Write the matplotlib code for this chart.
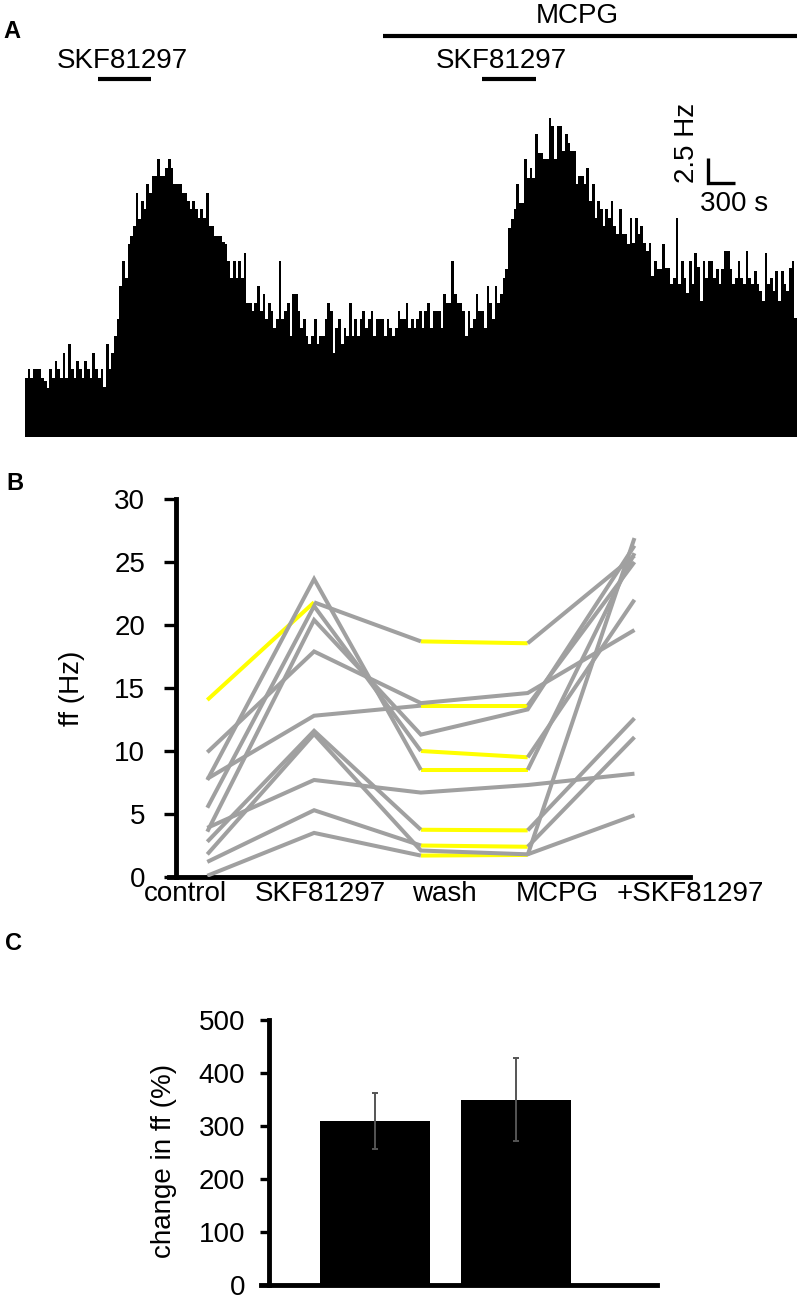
import matplotlib
matplotlib.use('Agg')
import matplotlib.pyplot as plt
from matplotlib import transforms
import numpy as np

plt.rcParams['font.family'] = ['Liberation Sans', 'DejaVu Sans']

# ---------------- data ----------------
# Panel A: firing-rate histogram (Hz), 30 s bins
bin_s = 30
rate_hz = [
    5.9, 6.8, 5.9, 6.8, 6.8, 6.8, 5.9, 5.6, 4.9, 6.8, 5.9, 7.6, 6.8, 5.9, 8.4, 5.9,
    9.3, 6.8, 5.9, 7.6, 6.8, 5.9, 7.6, 6.8, 5.9, 8.4, 6.8, 5.9, 6.8, 5.0, 9.3, 6.8,
    8.4, 10.1, 11.8, 15.1, 17.6, 15.9, 19.3, 20.1, 21.1,
    24.4, 21.8, 23.6, 22.8, 25.3, 24.4, 26.1, 26.1, 27.8, 26.1, 26.1, 26.9, 27.8, 26.9,
    25.3, 25.3, 25.3, 24.4, 24.4, 23.6, 22.8, 23.6, 22.8, 21.9, 22.8, 21.9, 24.4, 21.1,
    21.1, 20.1, 20.1,
    20.1, 19.5, 19.3, 17.6, 15.9, 17.6, 15.9, 17.6, 15.9, 18.4, 13.4, 13.4, 12.6, 13.4,
    15.1, 12.6, 14.3, 11.8, 13.4, 12.6, 10.9, 11.8, 17.6, 11.8, 12.6, 13.4, 10.1, 14.3,
    14.3, 12.6, 10.9, 11.8, 10.1, 9.3, 10.1, 11.8, 9.3, 10.1, 10.1, 11.8, 13.4, 12.6,
    8.4, 10.9, 11.8, 9.3, 10.9, 10.1, 13.4, 10.1, 11.8, 10.1, 11.8, 12.6, 10.9, 11.8,
    12.6, 10.1, 11.8, 11.8, 11.8, 10.1, 11.8, 10.9, 10.1, 10.9, 12.6, 11.8, 11.8, 13.4,
    10.9, 11.8, 10.9, 11.8, 12.6, 10.9, 12.6, 13.4,
    10.9, 12.6, 12.6, 12.6, 10.9, 14.3, 13.4, 13.4, 17.6, 14.3, 13.4, 13.4, 12.6, 10.1,
    12.6, 10.9, 11.8, 14.3, 12.6, 12.6, 10.9, 15.1, 13.4, 11.8, 15.1, 13.4, 14.3, 15.9,
    16.8, 20.9, 21.8, 22.8, 25.3, 23.4, 23.4, 27.8, 25.9, 26.9, 25.9, 30.3, 28.4, 28.4,
    27.8, 27.8, 31.9, 31.1, 27.8, 31.1, 31.1, 28.6, 30.3, 29.4, 28.6, 28.6, 25.3, 26.1,
    26.1, 25.3, 26.9, 23.6, 25.3, 21.9, 23.6, 22.8, 21.1, 22.8, 21.9, 23.6, 21.1, 20.3,
    22.8, 20.3, 20.3, 19.3,
    21.9, 19.4, 21.9, 20.3, 21.1, 19.4, 18.6, 19.4, 16.1, 17.6, 16.8, 16.8, 19.3, 16.9,
    16.9, 15.3, 15.9, 21.9, 15.3, 17.6, 15.9, 14.4, 17.6, 15.3, 18.4, 17.0, 13.6, 17.6,
    15.9, 17.6, 17.6, 15.9, 16.8, 15.3, 16.8, 18.6, 18.6, 16.8, 15.3, 15.9, 17.6, 15.9,
    15.3, 18.6, 15.9, 15.3, 16.6, 15.3, 14.6, 13.6, 18.4, 15.3, 15.9, 14.6, 16.6, 13.6,
    16.6, 15.3, 14.6, 16.9, 17.6, 11.9,
]
skf_periods_s = [(810, 1400), (5080, 5680)]
mcpg_period_s = (3980, 8580)
scale_hz = 2.5
scale_s = 300

# Panel B: ff (Hz) per cell in each condition
conditions = ['control', 'SKF81297', 'wash', 'MCPG', '+SKF81297']
ff_control  = [14.05, 9.9, 7.8, 7.7, 5.5, 3.6, 3.9, 2.8, 1.8, 1.2, 0.1]
ff_skf      = [21.8, 17.9, 12.8, 23.65, 21.5, 20.4, 7.7, 11.6, 11.35, 5.3, 3.5]
ff_wash     = [18.7, 13.8, 13.6, 8.5, 10.0, 11.3, 6.7, 3.75, 2.1, 2.5, 1.7]
ff_mcpg     = [18.55, 14.6, 13.6, 8.5, 9.5, 13.3, 7.3, 3.7, 1.8, 2.4, 1.75]
ff_mcpg_skf = [25.5, 19.6, 25.0, 25.7, 22.0, 26.3, 8.2, 12.6, 4.9, 11.1, 26.9]
# 1 = segment shown highlighted (yellow)
highlight = [
    [1, 0, 1, 0],
    [0, 0, 0, 0],
    [0, 0, 1, 0],
    [0, 0, 1, 0],
    [0, 0, 1, 0],
    [0, 0, 0, 0],
    [0, 0, 0, 0],
    [0, 0, 1, 0],
    [0, 0, 0, 0],
    [0, 0, 1, 0],
    [0, 0, 1, 0],
]

# Panel C: change in ff (%)
groups_c = ['SKF81297', 'MCPG+SKF81297']
change_pct = [310, 350]
change_err = [53, 78]

# ---------------- figure ----------------
W, H = 802, 1300
fig = plt.figure(figsize=(W / 100, H / 100), dpi=100)


def fx(px):
    return px / W


def fy(py):
    return 1 - py / H


def rect(l, t, r, b):
    return [fx(l), fy(b), (r - l) / W, (b - t) / H]


FS = 20
GRAY = '#a0a0a0'
YEL = '#ffff00'

# ---- Panel A ----
axA = fig.add_axes(rect(25, 110, 797, 437))
edges = np.arange(len(rate_hz) + 1) * bin_s
axA.stairs(rate_hz, edges, fill=True, color='black', linewidth=0)
axA.set_xlim(0, edges[-1])
axA.set_ylim(0, 32.7)
axA.axis('off')

trA = transforms.blended_transform_factory(axA.transData, fig.transFigure)
for s, e in skf_periods_s:
    axA.plot([s, e], [fy(79), fy(79)], transform=trA, color='black', lw=3,
             solid_capstyle='butt', clip_on=False)
axA.plot(list(mcpg_period_s), [fy(36), fy(36)], transform=trA, color='black',
         lw=3, solid_capstyle='butt', clip_on=False)
fig.text(fx(122), fy(61), 'SKF81297', fontsize=FS, ha='center', va='center')
fig.text(fx(501), fy(61), 'SKF81297', fontsize=FS, ha='center', va='center')
fig.text(fx(577), fy(16), 'MCPG', fontsize=FS, ha='center', va='center')

# scale bar
sb_x, sb_y = 7589, 25.4
axA.plot([sb_x, sb_x, sb_x + scale_s], [sb_y + scale_hz, sb_y, sb_y],
         color='black', lw=2.4, solid_joinstyle='miter', solid_capstyle='butt',
         clip_on=False)
axA.text(7356, 29.4, '%.1f Hz' % scale_hz, rotation=90, fontsize=FS,
         ha='center', va='center')
axA.text(7878, 23.3, '%d s' % scale_s, fontsize=FS, ha='center', va='center')

# ---- Panel B ----
axB = fig.add_axes(rect(168.8, 499, 690, 877))
xpos = np.arange(len(conditions))
series = list(zip(ff_control, ff_skf, ff_wash, ff_mcpg, ff_mcpg_skf))
for i, vals in enumerate(series):
    hl = highlight[i]
    for s in range(4):
        if hl[s]:
            axB.plot(xpos[s:s + 2], vals[s:s + 2], color=YEL, lw=2.9, zorder=2,
                     solid_capstyle='butt')
    s = 0
    while s < 4:
        if hl[s]:
            s += 1
            continue
        e = s
        while e < 4 and not hl[e]:
            e += 1
        axB.plot(xpos[s:e + 1], vals[s:e + 1], color=GRAY, lw=2.9, zorder=3,
                 solid_joinstyle='miter', solid_capstyle='butt')
        s = e

axB.set_xlim(-0.3605, 4.314)
axB.set_ylim(0, 30)
for sp in ('top', 'right'):
    axB.spines[sp].set_visible(False)
axB.spines['left'].set_position(('data', -0.29))
for sp in ('left', 'bottom'):
    axB.spines[sp].set_linewidth(3.5)
axB.set_yticks(np.arange(0, 31, 5))
axB.set_xticks([-0.205, 1.058, 2.224, 3.274, 4.520])
axB.set_xticklabels(conditions)
axB.tick_params(axis='y', direction='out', length=8.5, width=2.4, pad=14,
                labelsize=FS)
axB.tick_params(axis='x', length=0, pad=3, labelsize=FS)
axB.set_ylabel('ff (Hz)', fontsize=FS, va='center')
axB.yaxis.set_label_coords((72 - 168.8) / (690 - 168.8), 0.5)

# ---- Panel C ----
axC = fig.add_axes(rect(261, 1020, 657, 1285))
xc = np.arange(len(groups_c))
axC.bar(xc, change_pct, width=0.78, color='black', zorder=2)
axC.errorbar(xc, change_pct, yerr=change_err, fmt='none', ecolor='#555555',
             elinewidth=1.4, capsize=2.5, capthick=1.4, zorder=3)
axC.set_xlim(-0.809, 2.0)
axC.set_ylim(0, 500)
for sp in ('top', 'right'):
    axC.spines[sp].set_visible(False)
axC.spines['left'].set_position(('data', -0.75))
for sp in ('left', 'bottom'):
    axC.spines[sp].set_linewidth(3.5)
axC.set_xticks([])
axC.set_yticks(np.arange(0, 501, 100))
axC.tick_params(axis='y', direction='out', length=6.5, width=2.4, pad=11,
                labelsize=FS)
axC.set_ylabel('change in ff (%)', fontsize=FS, va='center')
axC.yaxis.set_label_coords((164 - 261) / (657 - 261), 0.47)

# panel letters
for lab, px, py in [('A', 12, 32), ('B', 15, 484), ('C', 13, 944)]:
    fig.text(fx(px), fy(py), lab, fontsize=17, fontweight='bold',
             ha='center', va='center')

fig.savefig('out.png', dpi=100)
